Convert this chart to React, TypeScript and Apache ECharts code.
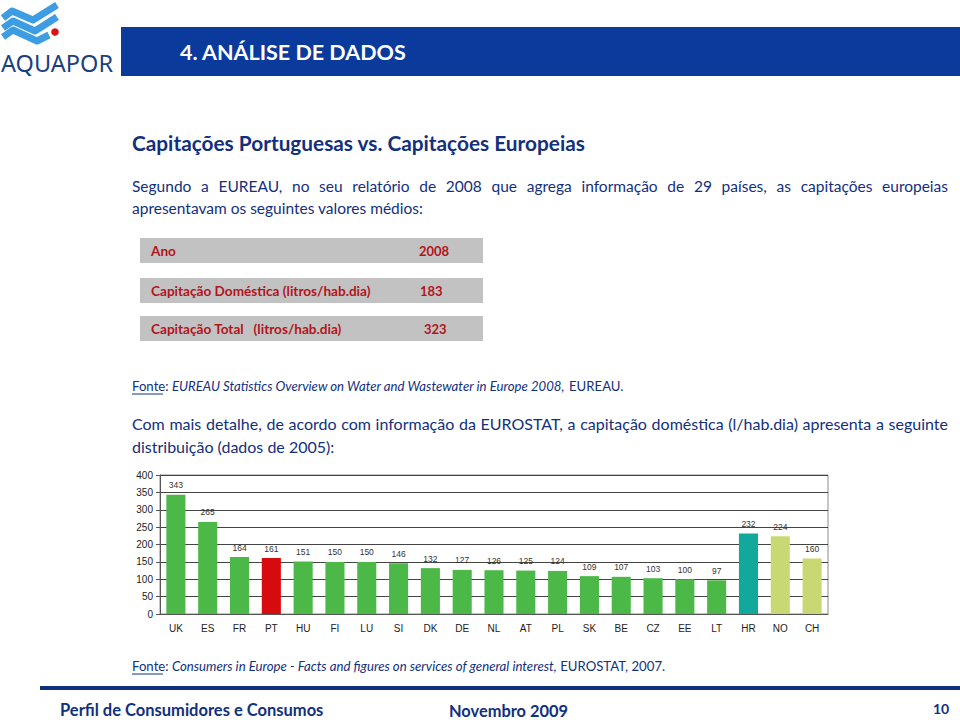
import React, { useEffect, useRef } from "react";
import * as echarts from "echarts";

const countries = ["UK", "ES", "FR", "PT", "HU", "FI", "LU", "SI", "DK", "DE", "NL", "AT", "PL", "SK", "BE", "CZ", "EE", "LT", "HR", "NO", "CH"];
const domesticUse = [343, 265, 164, 161, 151, 150, 150, 146, 132, 127, 126, 125, 124, 109, 107, 103, 100, 97, 232, 224, 160];
const tableLabels = ["Ano", "Capitação Doméstica (litros/hab.dia)", "Capitação Total   (litros/hab.dia)"];
const tableValues = ["2008", "183", "323"];

const BASE_COLOR = "#4cb848";
const highlightColors: Record<string, string> = {
  PT: "#d60b10",
  HR: "#12a89c",
  NO: "#c9d873",
  CH: "#c9d873",
};

const NAVY = "#12307c";
const BODY_FONT = "Lato";

export default function App() {
  const ref = useRef<HTMLDivElement>(null);

  useEffect(() => {
    if (!ref.current) return;
    const chart = echarts.init(ref.current, undefined, { renderer: "svg" });

    const ctx = document.createElement("canvas").getContext("2d")!;
    const measure = (t: string, font: string) => {
      ctx.font = font;
      return ctx.measureText(t).width;
    };

    const txt = (x: number, y: number, text: string, font: string, fill: string, align = "left", extra: any = {}) => ({
      type: "text",
      x,
      y,
      style: { text, font, fill, textAlign: align, align, textVerticalAlign: "middle", verticalAlign: "middle", ...extra },
    });

    const graphics: any[] = [];

    const justify = (x0: number, x1: number, y: number, line: string, font: string, fill: string) => {
      const words = line.split(" ");
      const widths = words.map((w) => measure(w, font));
      const total = widths.reduce((a, b) => a + b, 0);
      const gap = (x1 - x0 - total) / (words.length - 1);
      let x = x0;
      words.forEach((w, i) => {
        graphics.push(txt(x, y, w, font, fill));
        x += widths[i] + gap;
      });
    };

    // Logo
    const bands = [
      [[3, 18], [12, 11], [33, 20], [57, 5]],
      [[3, 28], [13, 21], [35, 31], [57, 17]],
      [[3, 37], [13, 30], [37, 41], [49, 35]],
    ];
    bands.forEach((pts) =>
      graphics.push({
        type: "polyline",
        shape: { points: pts },
        style: { stroke: "#3d9de3", lineWidth: 7, fill: null, lineJoin: "round" },
      })
    );
    graphics.push({ type: "circle", shape: { cx: 55, cy: 32, r: 3.8 }, style: { fill: "#d7141a" } });
    graphics.push(txt(1, 63, "AQUAPOR", `23.5px 'Noto Sans'`, "#1b3f80"));

    // Header bar
    graphics.push({ type: "rect", shape: { x: 121, y: 27, width: 839, height: 49 }, style: { fill: "#0a3a9b" } });
    graphics.push(txt(180, 52, "4. ANÁLISE DE DADOS", `bold 21.5px ${BODY_FONT}`, "#ffffff"));

    // Title
    graphics.push(txt(132, 142, "Capitações Portuguesas vs. Capitações Europeias", `bold 20.8px ${BODY_FONT}`, NAVY));

    // Paragraph 1
    justify(132, 948, 186, "Segundo a EUREAU, no seu relatório de 2008 que agrega informação de 29 países, as capitações europeias", `15.5px ${BODY_FONT}`, NAVY);
    graphics.push(txt(132, 208, "apresentavam os seguintes valores médios:", `15.5px ${BODY_FONT}`, NAVY));

    // Table
    const rowY = [238, 278, 316];
    const valX = [419, 420, 424];
    tableLabels.forEach((label, i) => {
      graphics.push({ type: "rect", shape: { x: 140, y: rowY[i], width: 343, height: 25 }, style: { fill: "#c2c2c2" } });
      graphics.push(txt(151, rowY[i] + 13, label, `bold 13.6px ${BODY_FONT}`, "#b3141c"));
      graphics.push(txt(valX[i], rowY[i] + 13, tableValues[i], `bold 13px ${BODY_FONT}`, "#b3141c"));
    });

    const fonteRich = {
      n: { font: `13.2px ${BODY_FONT}`, fill: NAVY },
      i: { font: `italic 13.2px ${BODY_FONT}`, fill: NAVY },
    };

    // Fonte 1
    graphics.push(
      txt(132, 386, "{n|Fonte}{n|: }{i|EUREAU Statistics Overview on Water and Wastewater in Europe 2008,}{n| EUREAU.}", `13.2px ${BODY_FONT}`, NAVY, "left", {
        rich: fonteRich,
      })
    );
    graphics.push({ type: "line", shape: { x1: 132, y1: 394, x2: 163, y2: 394 }, style: { stroke: NAVY, lineWidth: 1 } });

    // Paragraph 2
    justify(132, 948, 423, "Com mais detalhe, de acordo com informação da EUROSTAT, a capitação doméstica (l/hab.dia) apresenta a seguinte", `16px ${BODY_FONT}`, NAVY);
    graphics.push(txt(132, 446, "distribuição (dados de 2005):", `16px ${BODY_FONT}`, NAVY));

    // Fonte 2
    graphics.push(
      txt(132, 666, "{n|Fonte}{n|: }{i|Consumers in Europe - Facts and figures on services of general interest,}{n| EUROSTAT, 2007.}", `13.2px ${BODY_FONT}`, NAVY, "left", {
        rich: fonteRich,
      })
    );
    graphics.push({ type: "line", shape: { x1: 132, y1: 674, x2: 163, y2: 674 }, style: { stroke: NAVY, lineWidth: 1 } });

    // Footer
    graphics.push({ type: "rect", shape: { x: 40, y: 686, width: 920, height: 4 }, style: { fill: "#10307a" } });
    graphics.push(txt(60, 710, "Perfil de Consumidores e Consumos", `bold 16.5px ${BODY_FONT}`, NAVY));
    graphics.push(txt(449, 710, "Novembro 2009", `bold 16.4px ${BODY_FONT}`, NAVY));
    graphics.push(txt(933, 708, "10", `bold 14px ${BODY_FONT}`, NAVY));

    chart.setOption({
      animation: false,
      backgroundColor: "#ffffff",
      grid: {
        left: 160,
        right: 132,
        top: 475,
        bottom: 106,
        show: true,
        borderColor: "#8a8a8a",
        borderWidth: 1,
        backgroundColor: "transparent",
      },
      xAxis: {
        type: "category",
        data: countries,
        axisTick: { show: false },
        axisLine: { lineStyle: { color: "#555" } },
        axisLabel: { fontFamily: "Liberation Sans", fontSize: 10, color: "#222", margin: 9 },
      },
      yAxis: {
        type: "value",
        min: 0,
        max: 400,
        interval: 50,
        axisLine: { show: true, lineStyle: { color: "#555" } },
        axisTick: { show: true, length: 4, lineStyle: { color: "#555" } },
        axisLabel: { fontFamily: "Liberation Sans", fontSize: 10, color: "#222", margin: 7 },
        splitLine: { lineStyle: { color: "#444", width: 1 } },
      },
      series: [
        {
          type: "bar",
          barWidth: "60%",
          data: countries.map((c, i) => ({
            value: domesticUse[i],
            itemStyle: { color: highlightColors[c] ?? BASE_COLOR },
          })),
          label: {
            show: true,
            position: "top",
            distance: 5,
            fontFamily: "Liberation Sans",
            fontSize: 8.5,
            color: "#333",
          },
        },
      ],
      graphic: graphics,
    });

    return () => chart.dispose();
  }, []);

  return <div ref={ref} style={{ position: "fixed", left: 0, top: 0, width: 960, height: 720 }} />;
}
